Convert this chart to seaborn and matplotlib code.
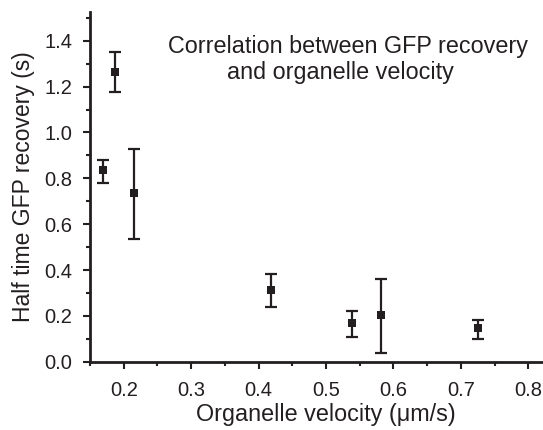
import matplotlib
matplotlib.use("Agg")
import matplotlib.pyplot as plt
import seaborn as sns
import pandas as pd
import numpy as np
from matplotlib.ticker import MultipleLocator

# data
velocity = [0.169, 0.187, 0.215, 0.419, 0.538, 0.582, 0.726]
half_time = [0.836, 1.264, 0.735, 0.312, 0.168, 0.203, 0.148]
err_top = [0.881, 1.351, 0.929, 0.383, 0.223, 0.360, 0.182]
err_bottom = [0.780, 1.175, 0.536, 0.240, 0.107, 0.037, 0.099]

x_ticks = [0.2, 0.3, 0.4, 0.5, 0.6, 0.7, 0.8]
x_ticklabels = ["0.2", "0.3", "0.4", "0.5", "0.6", "0.7", "0.8"]
y_ticks = [0.0, 0.2, 0.4, 0.6, 0.8, 1.0, 1.2, 1.4]
y_ticklabels = ["0.0", "0.2", "0.4", "0.6", "0.8", "1.0", "1.2", "1.4"]

title_lines = ["Correlation between GFP recovery", "and organelle velocity"]
x_label = "Organelle velocity (\u03bcm/s)"
y_label = "Half time GFP recovery (s)"

df = pd.DataFrame({"velocity": velocity, "half_time": half_time,
                   "top": err_top, "bottom": err_bottom})

sns.set_style("ticks")
plt.rcParams["font.family"] = ["Liberation Sans", "DejaVu Sans"]
ink = "#231f20"

fig = plt.figure(figsize=(5.43, 4.30), dpi=100)
ax = fig.add_axes([90/543, 68.3/430, 472/543, 350/430])

yerr = np.vstack([df["half_time"] - df["bottom"], df["top"] - df["half_time"]])
ax.errorbar(df["velocity"], df["half_time"], yerr=yerr, fmt="none",
            ecolor=ink, elinewidth=1.6, capsize=4.2, capthick=1.6, zorder=2)
sns.scatterplot(data=df, x="velocity", y="half_time", marker="s", s=28,
                color=ink, edgecolor=ink, linewidth=0, ax=ax, zorder=3)

ax.set_xlim(0.15, 0.85)
ax.set_ylim(0, 1.527)
ax.set_xticks(x_ticks)
ax.set_xticklabels(x_ticklabels)
ax.set_yticks(y_ticks)
ax.set_yticklabels(y_ticklabels)
ax.xaxis.set_minor_locator(MultipleLocator(0.05))
ax.yaxis.set_minor_locator(MultipleLocator(0.1))

for s in ["top", "right"]:
    ax.spines[s].set_visible(False)
for s in ["left", "bottom"]:
    ax.spines[s].set_linewidth(2.0)
    ax.spines[s].set_color(ink)

ax.tick_params(axis="both", which="major", length=5.2, width=1.5, color=ink,
               labelsize=14.5, labelcolor=ink)
ax.tick_params(axis="both", which="minor", length=2.6, width=1.5, color=ink)
ax.tick_params(axis="x", which="major", pad=9)
ax.tick_params(axis="y", which="major", pad=7.5)

ax.set_xlabel(x_label, fontsize=16.8, color=ink, labelpad=1.5)
ax.set_ylabel(y_label, fontsize=16.5, color=ink, labelpad=7)

fig.text(348/543, 1 - 47/430, title_lines[0], ha="center", va="center",
         fontsize=16.8, color=ink)
fig.text(340/543, 1 - 73/430, title_lines[1], ha="center", va="center",
         fontsize=16.8, color=ink)

fig.savefig("out.png", dpi=100)
